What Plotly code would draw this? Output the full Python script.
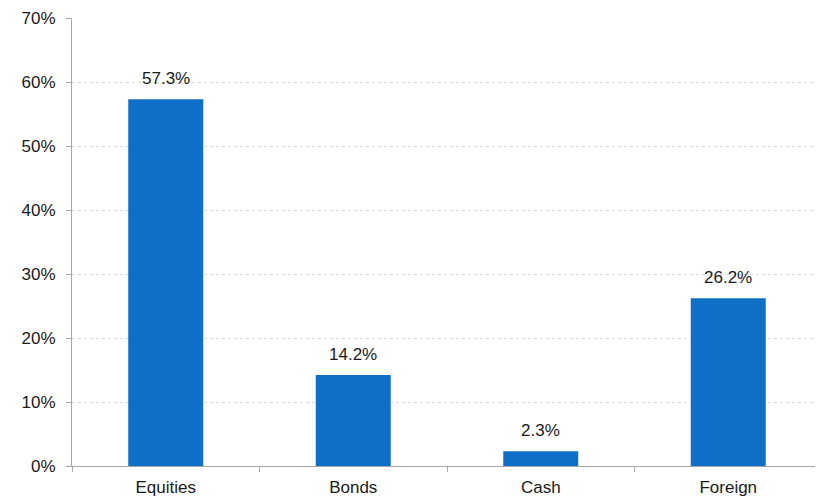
import plotly.graph_objects as go

categories = ["Equities", "Bonds", "Cash", "Foreign"]
values = [57.3, 14.2, 2.3, 26.2]
y_ticks = [0, 10, 20, 30, 40, 50, 60, 70]
y_tick_labels = [f"{v}%" for v in y_ticks]

FONT = "Liberation Sans, Arial, sans-serif"

fig = go.Figure(go.Bar(
    x=categories, y=values,
    marker=dict(color="#0F6FC6", line=dict(width=0)),
    width=0.4,
))

for c, v in zip(categories, values):
    fig.add_annotation(
        x=c, y=v, text=f"{v:.1f}%", showarrow=False,
        yanchor="bottom", yshift=9,
        font=dict(size=17, color="#1a1a1a", family=FONT),
    )

fig.update_layout(
    width=815, height=490,
    margin=dict(l=64, r=1, t=10, b=32),
    plot_bgcolor="white", paper_bgcolor="white",
    font=dict(family=FONT, size=17, color="#1a1a1a"),
    showlegend=False,
)
fig.update_yaxes(
    range=[0, 70], tickvals=y_ticks, ticktext=y_tick_labels,
    showgrid=True, gridcolor="#D9D9D9", griddash="dot", gridwidth=1,
    showline=True, linecolor="#A6A6A6", linewidth=1,
    ticks="outside", ticklen=5, tickcolor="#A6A6A6",
    ticklabelstandoff=7, zeroline=False,
)
fig.update_xaxes(
    showline=True, linecolor="#A6A6A6", linewidth=1,
    ticks="outside", ticklen=5, tickcolor="#A6A6A6",
    tickson="boundaries", showgrid=False, ticklabelstandoff=6,
)

fig.write_html("out.html")
